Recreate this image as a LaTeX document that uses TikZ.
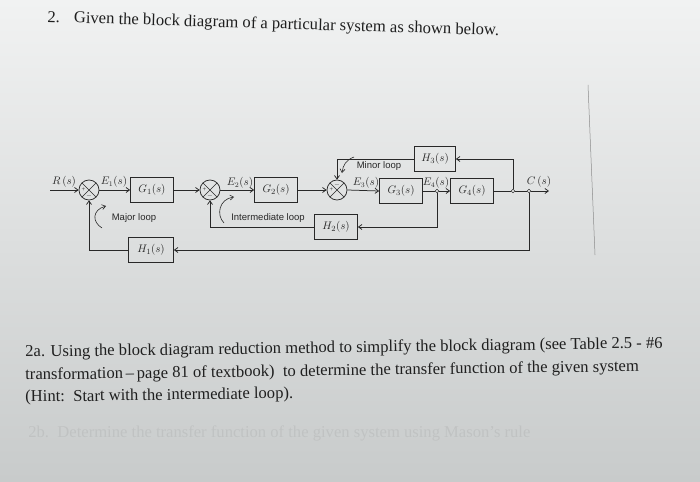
\documentclass[tikz,border=0pt]{standalone}
\usepackage{fontspec}
\setmainfont{Liberation Serif}
\newfontfamily\lbsans{Liberation Sans}
\usetikzlibrary{arrows.meta}
\definecolor{ink}{RGB}{40,40,40}
\definecolor{bgtop}{RGB}{241,242,242}
\definecolor{bgmid}{RGB}{234,235,235}
\definecolor{bgbot}{RGB}{200,203,203}
\begin{document}
\begin{tikzpicture}[x=1pt,y=-1pt,
  line width=0.75pt,
  arr/.style={draw=ink,-{Straight Barb[length=3.5pt,width=5pt]}},
  wire/.style={draw=ink},
  blk/.style={draw=ink,minimum width=43pt,minimum height=25pt,inner sep=0pt,text=ink,font=\fontsize{11}{13}\selectfont},
  sumj/.style={draw=ink,circle,minimum size=20pt,inner sep=0pt,
    path picture={\draw[ink,line width=0.6pt] (path picture bounding box.north west) -- (path picture bounding box.south east)
      (path picture bounding box.north east) -- (path picture bounding box.south west);}},
  jn/.style={draw=ink,circle,fill=white,minimum size=3.4pt,inner sep=0pt,line width=0.5pt},
  sgn/.style={font=\fontsize{6.5}{6.5}\selectfont,text=ink,inner sep=0pt},
  lbl/.style={font=\fontsize{10.5}{12}\selectfont,text=ink,inner sep=1pt},
  looptxt/.style={font=\lbsans\fontsize{9.5}{11}\selectfont,text=ink,inner sep=0pt},
  para/.style={font=\fontsize{16.6}{21.5}\selectfont,text=black!88,inner sep=0pt}
]
\useasboundingbox (0,0) rectangle (700,481);
\shade[top color=bgtop,middle color=bgmid,bottom color=bgbot] (0,0) rectangle (700,481);

% stray line on the page
\draw[black!45,line width=0.5pt] (588,85) -- (595,255);

% title
\node[para,anchor=base west,rotate=-1.7] (title) at (47,22) {2.\hspace{14pt}Given the block diagram of a particular system as shown below.};

% blocks
\node[sumj] (s1) at (89,190) {};
\node[blk] (G1) at (152,190) {$G_1(s)$};
\node[sumj] (s2) at (210,190) {};
\node[blk] (G2) at (276,190) {$G_2(s)$};
\node[sumj] (s3) at (337,190) {};
\node[blk] (G3) at (401,191) {$G_3(s)$};
\node[jn] (j1) at (437,191) {};
\node[blk] (G4) at (472,191) {$G_4(s)$};
\node[jn] (j2) at (513,191) {};
\node[jn] (j3) at (529,191) {};
\node[blk,minimum width=41pt] (H3) at (435,159) {$H_3(s)$};
\node[blk] (H2) at (336,227) {$H_2(s)$};
\node[blk,minimum width=45pt] (H1) at (151,250) {$H_1(s)$};
\coordinate (rin) at (50,190);
\coordinate (cout) at (549,191);

% signs
\node[sgn] (p1) at ([xshift=-5.5pt]s1.center) {+};
\node[sgn] (m1) at ([yshift=-5.5pt]s1.center) {$-$};
\node[sgn] (p2) at ([xshift=-5.5pt]s2.center) {+};
\node[sgn] (m2) at ([yshift=-5.5pt]s2.center) {$-$};
\node[sgn] (p3) at ([xshift=-5.5pt]s3.center) {+};
\node[sgn] (m3) at ([yshift=5.5pt]s3.center) {$-$};

% signal labels
\node[lbl,anchor=south] (Rl) at (64,189) {$R\,(s)$};
\node[lbl,anchor=south] (E1l) at (114,189) {$E_1(s)$};
\node[lbl,anchor=south] (E2l) at (240,190) {$E_2(s)$};
\node[lbl,anchor=south] (E3l) at (366,190) {$E_3(s)$};
\node[lbl,anchor=south] (E4l) at (436,190) {$E_4(s)$};
\node[lbl,anchor=south] (Cl) at (539,189) {$C\,(s)$};

% forward path
\draw[arr] (rin) -- (s1.west);
\draw[arr] (s1.east) -- (G1.west);
\draw[arr] (G1.east) -- (s2.west);
\draw[arr] (s2.east) -- (G2.west);
\draw[arr] (G2.east) -- (s3.west);
\draw[arr] (s3.east) -- (G3.west);
\draw[wire] (G3.east) -- (j1);
\draw[arr] (j1) -- (G4.west);
\draw[wire] (G4.east) -- (j2);
\draw[wire] (j2) -- (j3);
\draw[arr] (j3) -- (cout);

% feedback paths
\draw[arr] (j2) |- (H3.east);
\draw[arr] (H3.west) -| (s3.north);
\draw[arr] (j1) |- (H2.east);
\draw[arr] (H2.west) -| (s2.south);
\draw[arr] (j3) |- (H1.east);
\draw[arr] (H1.west) -| (s1.south);

% loop labels and curved arrows
\node[looptxt] (maj) at (134,218) {Major loop};
\node[looptxt] (intl) at (268,218) {Intermediate loop};
\node[looptxt] (minl) at (379,166) {Minor loop};
\draw[arr,line width=0.6pt] (102,228) .. controls (92,222) and (92,210) .. (106,206);
\draw[arr,line width=0.6pt] (224,223) .. controls (216,215) and (219,199) .. (234,197);
\draw[arr,line width=0.6pt] (354,157) .. controls (346,160) and (343,165) .. (342,173);

% question text
\node[para,anchor=base west,rotate=0.8] (qa1) at (25,357) {2a. Using the block diagram reduction method to simplify the block diagram (see Table 2.5 - \#6};
\node[para,anchor=base west,rotate=0.8] (qa2) at (25,380) {transformation\,–\,page 81 of textbook)\ \ to determine the transfer function of the given system};
\node[para,anchor=base west,rotate=0.8] (qa3) at (25,402) {(Hint:\ \ Start with the intermediate loop).};
\node[para,anchor=base west,text=black,opacity=0.06] (qb) at (28,437) {2b.\ \ Determine the transfer function of the given system using Mason's rule};
\end{tikzpicture}
\end{document}
